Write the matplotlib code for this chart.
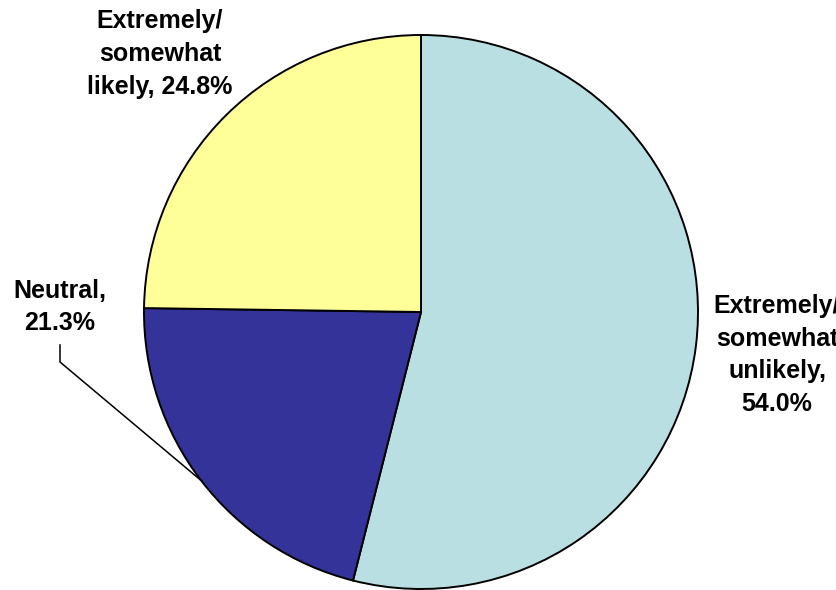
import matplotlib
matplotlib.use("Agg")
import matplotlib.pyplot as plt
import numpy as np

# slice data, clockwise from 12 o'clock
labels = ['Extremely/\nsomewhat\nunlikely,\n54.0%', 'Neutral,\n21.3%', 'Extremely/\nsomewhat\nlikely, 24.8%']
values = [54.0, 21.3, 24.8]
colors = ['#BADFE3', '#333399', '#FFFF99']

plt.rcParams['font.family'] = ['Liberation Sans', 'DejaVu Sans']

fig = plt.figure(figsize=(8.36, 5.90), dpi=100)
ax = fig.add_axes([0, 0, 1, 1])
ax.set_xlim(0, 836)
ax.set_ylim(0, 590)
ax.set_aspect('equal')
ax.axis('off')

cx, cy, r = 421, 278, 277
wedges, _ = ax.pie(values, colors=colors, startangle=90, counterclock=False,
                   center=(cx, cy), radius=r, frame=True,
                   wedgeprops=dict(edgecolor='black', linewidth=1.4))
ax.set_xlim(0, 836)
ax.set_ylim(0, 590)
ax.axis('off')

tkw = dict(fontsize=18, fontweight='bold', ha='center', va='center', linespacing=1.45)
ax.text(777, 590 - 355, labels[0], **tkw)
ax.text(60, 590 - 307, labels[1], **tkw)
ax.text(160, 590 - 54, labels[2], **tkw)

# leader line for the neutral slice
w = wedges[1]
mid = np.deg2rad((w.theta1 + w.theta2) / 2)
ex, ey = cx + r * np.cos(mid), cy + r * np.sin(mid)
ax.plot([60, 60, ex], [590 - 345, 590 - 362, ey], color='black', linewidth=1.1)

fig.savefig('out.png', dpi=100)
